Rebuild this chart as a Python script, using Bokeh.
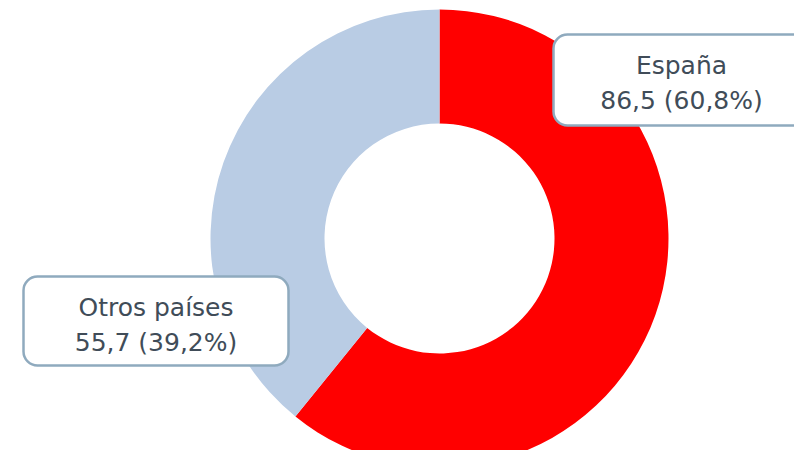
import math
from bokeh.plotting import figure
from bokeh.models import Range1d, ColumnDataSource
from bokeh.core.properties import value
from bokeh.embed import file_html
from bokeh.resources import INLINE

# ---- data ----
categories = ["España", "Otros países"]
values = [86.5, 55.7]
colors = ["#ff0000", "#b9cce4"]

total = sum(values)
pcts = [v / total * 100 for v in values]

def fmt(x, d=1):
    return f"{x:.{d}f}".replace(".", ",")

# wedges: clockwise from top
starts, ends = [], []
a = math.pi / 2
for v in values:
    span = v / total * 2 * math.pi
    ends.append(a)
    starts.append(a - span)
    a -= span

W, H = 794, 450
p = figure(width=W, height=H, output_backend="svg", toolbar_location=None,
           x_range=Range1d(0, W), y_range=Range1d(0, H),
           x_axis_location=None, y_axis_location=None, min_border=0)
p.outline_line_color = None
p.xgrid.visible = False
p.ygrid.visible = False
p.background_fill_color = "white"

cx, cy = 439, 212
src = ColumnDataSource(dict(start=starts, end=ends, color=colors))
p.annular_wedge(x=cx, y=cy, inner_radius=115, outer_radius=229,
                inner_radius_units="screen", outer_radius_units="screen",
                start_angle="start", end_angle="end", fill_color="color",
                line_color=None, source=src)

# label boxes (layout positions)
boxes = [
    dict(left=553, right=809, top=416, bottom=325, tx=681, ty1=385, ty2=350),
    dict(left=23, right=288, top=174, bottom=85, tx=155.5, ty1=143, ty2=108),
]
for i, b in enumerate(boxes):
    p.quad(left=b["left"], right=b["right"], top=b["top"], bottom=b["bottom"],
           fill_color="white", line_color="#8faabe", line_width=2.5,
           border_radius=14)
    p.text(x=[b["tx"], b["tx"]], y=[b["ty1"], b["ty2"]],
           text=[categories[i], f"{fmt(values[i])} ({fmt(pcts[i])}%)"],
           text_align="center", text_baseline="middle",
           text_font=value("DejaVu Sans"), text_font_size="25px",
           text_color="#404c58")

open("out.html", "w").write(file_html(p, INLINE))
